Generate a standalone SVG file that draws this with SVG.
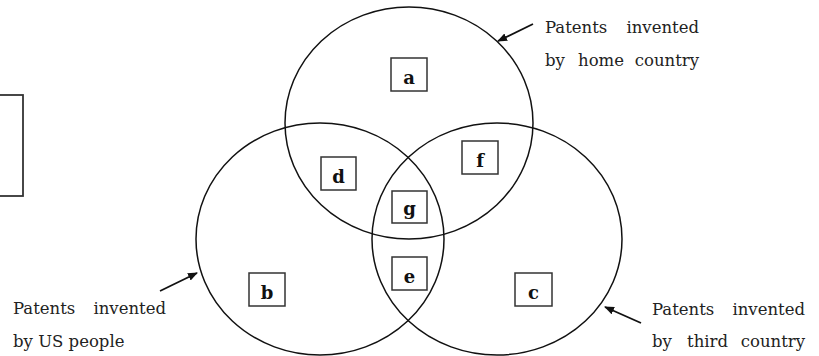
<svg xmlns="http://www.w3.org/2000/svg" width="819" height="356" viewBox="0 0 819 356">
<style>
.ell{fill:none;stroke:#111;stroke-width:1.5}
.box{fill:#fff;stroke:#333;stroke-width:1.5}
.lbl{font-family:"DejaVu Serif","Liberation Serif",serif;font-size:18px;font-weight:bold;fill:#111;text-anchor:middle}
.txt{font-family:"DejaVu Serif","Liberation Serif",serif;font-size:16.5px;fill:#222}
.conn{stroke:#111;stroke-width:1.8;fill:none}
</style>
<defs>
<marker id="ah" markerWidth="10" markerHeight="8" refX="9" refY="4" orient="auto" markerUnits="userSpaceOnUse" viewBox="0 0 10 8">
<path d="M0,0 L10,4 L0,8 z" fill="#111"/>
</marker>
</defs>
<rect x="-5" y="95" width="28" height="101" fill="#fff" stroke="#333" stroke-width="1.8"/>
<g id="sets">
<ellipse id="home" class="ell" cx="409" cy="123" rx="124" ry="116"/>
<ellipse id="us" class="ell" cx="320" cy="239" rx="124" ry="116"/>
<ellipse id="third" class="ell" cx="497" cy="239" rx="125" ry="116"/>
</g>
<g id="node-a"><rect class="box" x="391" y="58" width="36" height="33"/><text class="lbl" x="409" y="84">a</text></g>
<g id="node-d"><rect class="box" x="321" y="157" width="35" height="33"/><text class="lbl" x="338.5" y="183">d</text></g>
<g id="node-f"><rect class="box" x="462" y="141" width="36" height="33"/><text class="lbl" x="480" y="167">f</text></g>
<g id="node-g"><rect class="box" x="392" y="191" width="35" height="32"/><text class="lbl" x="409.5" y="215">g</text></g>
<g id="node-e"><rect class="box" x="392" y="257" width="35" height="33"/><text class="lbl" x="409.5" y="283">e</text></g>
<g id="node-b"><rect class="box" x="249" y="273" width="36" height="33"/><text class="lbl" x="267" y="299">b</text></g>
<g id="node-c"><rect class="box" x="515" y="273" width="37" height="33"/><text class="lbl" x="533.5" y="299">c</text></g>
<g id="connectors">
<line class="conn" x1="533" y1="24" x2="498" y2="41" marker-end="url(#ah)"/>
<line class="conn" x1="160" y1="291" x2="197" y2="273" marker-end="url(#ah)"/>
<line class="conn" x1="641" y1="323" x2="605" y2="307" marker-end="url(#ah)"/>
</g>
<g id="label-home" class="txt">
<text x="545" y="33">Patents</text>
<text x="699" y="33" text-anchor="end">invented</text>
<text x="545" y="66">by</text>
<text x="578" y="66">home</text>
<text x="699" y="66" text-anchor="end">country</text>
</g>
<g id="label-us" class="txt">
<text x="13" y="314">Patents</text>
<text x="166" y="314" text-anchor="end">invented</text>
<text x="13" y="347">by US people</text>
</g>
<g id="label-third" class="txt">
<text x="652" y="315">Patents</text>
<text x="805" y="315" text-anchor="end">invented</text>
<text x="652" y="347">by</text>
<text x="687" y="347">third</text>
<text x="805" y="347" text-anchor="end">country</text>
</g>
</svg>
